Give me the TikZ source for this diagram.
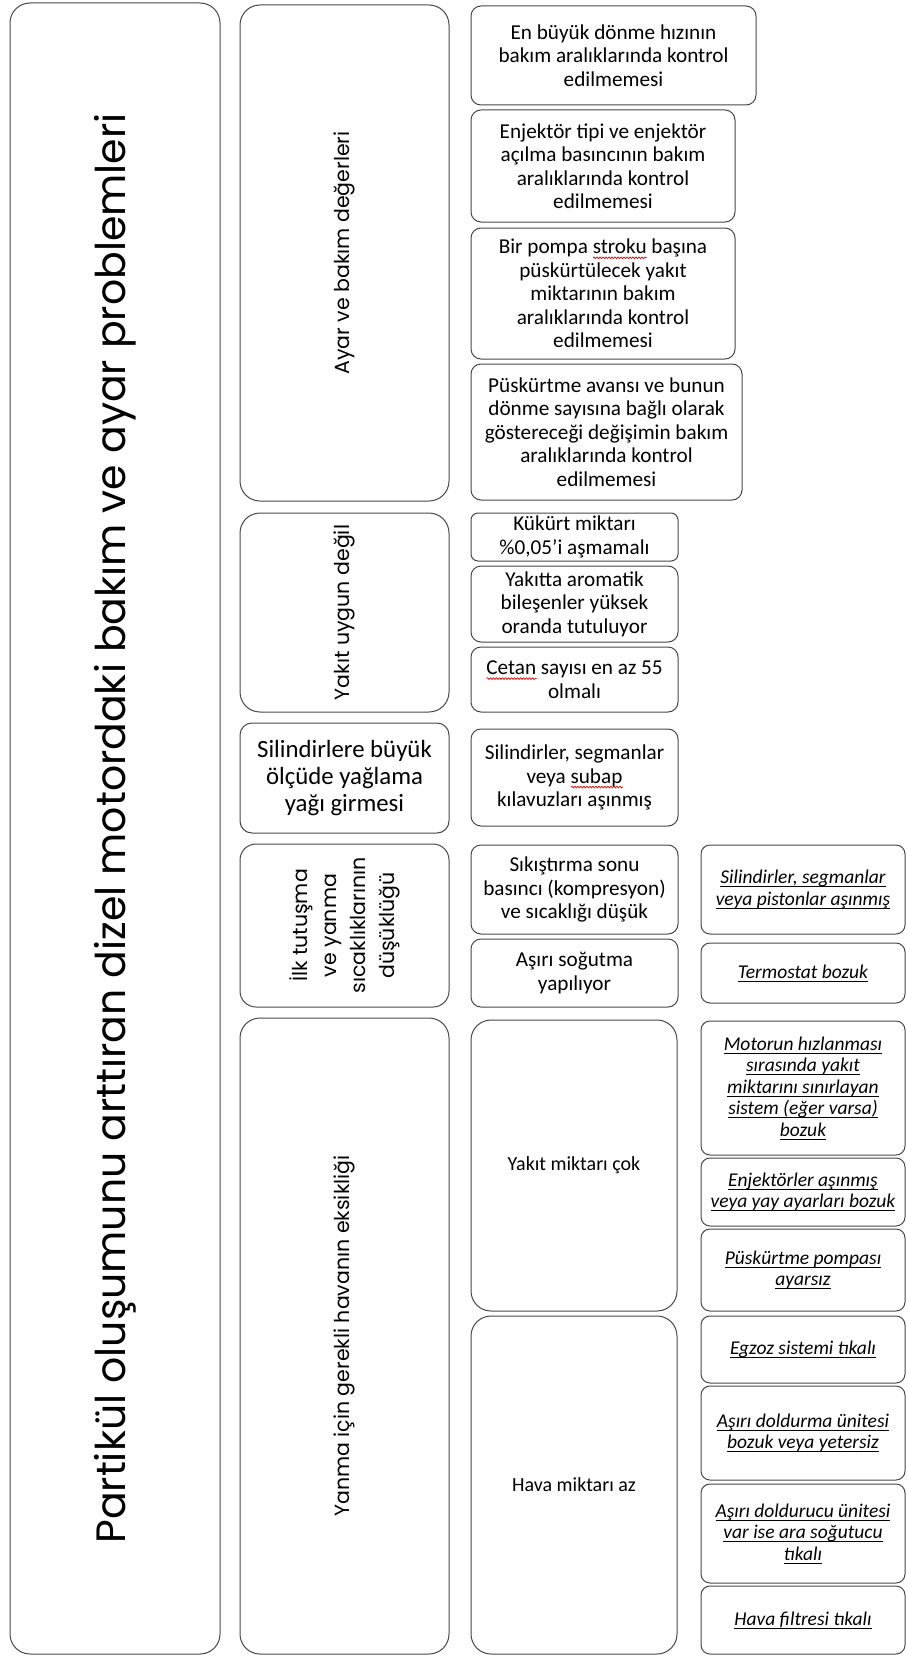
\documentclass[tikz,border=0pt]{standalone}
\usepackage{fontspec}
\setmainfont{Carlito}
\newfontfamily\gothic{Poppins}
\usetikzlibrary{decorations.pathmorphing}

% underline at a fixed depth, one line at a time
\newcommand{\ulin}[1]{\setbox0\hbox{#1}\rlap{\rule[-3.5pt]{\wd0}{0.8pt}}\box0\relax}
% red spell-check wave under a word
\newcommand{\spellmark}[1]{\setbox2\hbox{#1}\rlap{\smash{\tikz[baseline=0pt]\draw[red!85!black,line width=0.7pt,sharp corners,decorate,decoration={snake,amplitude=0.9pt,segment length=3pt}] (0pt,-4pt)--(\the\wd2,-4pt);}}\box2\relax}

\begin{document}
\begin{tikzpicture}[x=1pt,y=-1pt,line join=round,
    cell/.style={draw=black!72,line width=1pt,align=center,inner sep=1pt},
    small/.style={cell,rounded corners=10pt,font=\fontsize{21.2}{23.5}\selectfont},
    cause/.style={cell,rounded corners=9pt,minimum width=204pt,font=\itshape\fontsize{19.5}{21.5}\selectfont},
    side/.style={cell,rounded corners=20pt,rotate=90,minimum height=209pt,font=\gothic\fontsize{20.5}{29}\selectfont}]
\useasboundingbox (0,0) rectangle (906,1659);

% first column
\node[cell,rounded corners=20pt,rotate=90,minimum width=1651pt,minimum height=210pt,font=\gothic\fontsize{41}{48}\selectfont] (title) at (115,828.5) {Partikül oluşumunu arttıran dizel motordaki bakım ve ayar problemleri};

% second column
\node[side,minimum width=496pt] (ayar) at (344.5,253) {Ayar ve bakım değerleri};
\node[side,minimum width=199pt] (yakit) at (344.5,612.5) {Yakıt uygun değil};
\node[cell,rounded corners=12pt,minimum width=209pt,minimum height=110pt,font=\fontsize{24.8}{27.3}\selectfont] (yag) at (344.5,778) {Silindirlere büyük\\ölçüde yağlama\\yağı girmesi};
\node[side,rounded corners=16pt,minimum width=163pt] (tutusma) at (344.5,925.5) {İlk tutuşma\\ve yanma\\sıcaklıklarının\\düşüklüğü};
\node[side,minimum width=636pt] (hava) at (344.5,1336) {Yanma için gerekli havanın eksikliği};

% third column
\node[small,minimum width=285pt,minimum height=99pt] (c1) at (613.5,55.5) {En büyük dönme hızının\\bakım aralıklarında kontrol\\edilmemesi};
\node[small,minimum width=264pt,minimum height=112pt] (c2) at (603,166) {Enjektör tipi ve enjektör\\açılma basıncının bakım\\aralıklarında kontrol\\edilmemesi};
\node[small,minimum width=264pt,minimum height=131pt] (c3) at (603,293.5) {Bir pompa \spellmark{stroku} başına\\püskürtülecek yakıt\\miktarının bakım\\aralıklarında kontrol\\edilmemesi};
\node[small,minimum width=271pt,minimum height=136pt] (c4) at (606.5,432) {Püskürtme avansı ve bunun\\dönme sayısına bağlı olarak\\göstereceği değişimin bakım\\aralıklarında kontrol\\edilmemesi};
\node[small,rounded corners=7pt,minimum width=207pt,minimum height=48pt] (k1) at (574.5,537) {Kükürt miktarı\\\%0,05{\char"0027}i aşmamalı};
\node[small,minimum width=207pt,minimum height=76pt] (k2) at (574.5,604) {Yakıtta aromatik\\bileşenler yüksek\\oranda tutuluyor};
\node[small,minimum width=207pt,minimum height=65pt] (k3) at (574.5,679.5) {\spellmark{Cetan} sayısı en az 55\\olmalı};
\node[small,minimum width=207pt,minimum height=97pt] (s1) at (574.5,777.5) {Silindirler, segmanlar\\veya \spellmark{subap}\\kılavuzları aşınmış};
\node[small,minimum width=207pt,minimum height=89pt] (t1) at (574.5,889.5) {Sıkıştırma sonu\\basıncı (kompresyon)\\ve sıcaklığı düşük};
\node[small,minimum width=207pt,minimum height=68pt] (t2) at (574.5,973) {Aşırı soğutma\\yapılıyor};
\node[small,rounded corners=20pt,minimum width=206pt,minimum height=291pt,font=\fontsize{20}{24}\selectfont] (ycok) at (574,1165.5) {Yakıt miktarı çok};
\node[small,rounded corners=20pt,minimum width=206pt,minimum height=338pt,font=\fontsize{20}{24}\selectfont] (haz) at (574,1485) {Hava miktarı az};

% fourth column
\node[cause,minimum height=89pt] (d1) at (803,889.5) {\ulin{Silindirler, segmanlar}\\\ulin{veya pistonlar aşınmış}};
\node[cause,minimum height=60pt] (d2) at (803,973) {\ulin{Termostat bozuk}};
\node[cause,minimum height=134pt] (e1) at (803,1088) {\ulin{Motorun hızlanması}\\\ulin{sırasında yakıt}\\\ulin{miktarını sınırlayan}\\\ulin{sistem (eğer varsa)}\\\ulin{bozuk}};
\node[cause,minimum height=68pt] (e2) at (803,1192) {\ulin{Enjektörler aşınmış}\\\ulin{veya yay ayarları bozuk}};
\node[cause,minimum height=82pt] (e3) at (803,1270) {\ulin{Püskürtme pompası}\\\ulin{ayarsız}};
\node[cause,minimum height=67pt] (e4) at (803,1349.5) {\ulin{Egzoz sistemi tıkalı}};
\node[cause,minimum height=94pt] (e5) at (803,1433) {\ulin{Aşırı doldurma ünitesi}\\\ulin{bozuk veya yetersiz}};
\node[cause,minimum height=99pt] (e6) at (803,1533.5) {\ulin{Aşırı doldurucu ünitesi}\\\ulin{var ise ara soğutucu}\\\ulin{tıkalı}};
\node[cause,minimum height=68pt] (e7) at (803,1620) {\ulin{Hava filtresi tıkalı}};
\end{tikzpicture}
\end{document}
